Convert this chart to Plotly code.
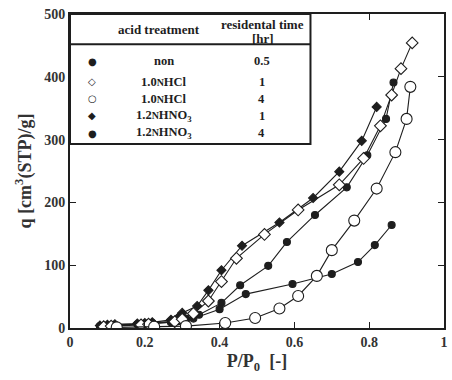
import plotly.graph_objects as go

# ---- data ----
non_x = [0.08, 0.10, 0.12, 0.18, 0.20, 0.22, 0.27, 0.29, 0.31, 0.33, 0.40, 0.47, 0.595, 0.70, 0.77, 0.815, 0.86]
non_y = [3, 4, 5, 6, 7, 8, 9, 11, 13, 15, 30, 54, 70, 86, 105, 132, 164]

hcl1_x = [0.09, 0.11, 0.19, 0.21, 0.28, 0.30, 0.33, 0.37, 0.405, 0.445, 0.52, 0.61, 0.72, 0.785, 0.83, 0.86, 0.885, 0.915]
hcl1_y = [2, 3, 5, 6, 10, 14, 23, 43, 74, 111, 149, 188, 228, 270, 322, 371, 413, 454]

hcl4_x = [0.125, 0.225, 0.31, 0.415, 0.495, 0.56, 0.61, 0.66, 0.70, 0.76, 0.82, 0.87, 0.90, 0.91]
hcl4_y = [1, 2, 3, 8, 16, 31, 51, 83, 124, 171, 222, 280, 333, 384]

hno1_x = [0.08, 0.10, 0.12, 0.18, 0.20, 0.22, 0.27, 0.29, 0.30, 0.34, 0.37, 0.405, 0.46, 0.56, 0.65, 0.72, 0.78, 0.82]
hno1_y = [4, 5, 6, 7, 8, 9, 13, 17, 24, 35, 60, 92, 131, 168, 207, 249, 298, 352]

hno4_x = [0.09, 0.11, 0.19, 0.21, 0.27, 0.29, 0.31, 0.345, 0.405, 0.455, 0.53, 0.58, 0.655, 0.74, 0.795, 0.845, 0.865]
hno4_y = [3, 4, 6, 7, 10, 12, 15, 21, 40, 68, 99, 137, 180, 224, 275, 333, 391]

x_ticks = [0, 0.2, 0.4, 0.6, 0.8, 1]
x_labels = ["0", "0.2", "0.4", "0.6", "0.8", "1"]
y_ticks = [0, 100, 200, 300, 400, 500]
y_labels = ["0", "100", "200", "300", "400", "500"]

legend_treat = ["non", "1.0<span style='font-size:10px'>N</span>HCl", "1.0<span style='font-size:10px'>N</span>HCl",
                "1.2<span style='font-size:10px'>N</span>HNO<sub>3</sub>", "1.2<span style='font-size:10px'>N</span>HNO<sub>3</sub>"]
legend_time = ["0.5", "1", "4", "1", "4"]
legend_sym = ["●", "◇", "○", "◆", "●"]
legend_rows_y = [425, 392, 365, 338, 310]

INK = "#1e1e1e"
SERIF = "Liberation Serif"

fig = go.Figure()

def add(x, y, symbol, size, fill):
    fig.add_trace(go.Scatter(
        x=x, y=y, mode="lines+markers",
        line=dict(color=INK, width=1.1),
        marker=dict(symbol=symbol, size=size, color=fill,
                    line=dict(color=INK, width=1.1)),
        showlegend=False))

add(non_x, non_y, "circle", 7, INK)
add(hno4_x, hno4_y, "circle", 7, INK)
add(hno1_x, hno1_y, "diamond", 7, INK)
add(hcl1_x, hcl1_y, "diamond", 9, "white")
add(hcl4_x, hcl4_y, "circle", 11, "white")

# legend table
fig.add_shape(type="rect", x0=0, x1=0.643, y0=293, y1=500, xref="x", yref="y",
              line=dict(color=INK, width=2), fillcolor="white", layer="above")
fig.add_shape(type="line", x0=0, x1=0.643, y0=452, y1=452, xref="x", yref="y",
              line=dict(color=INK, width=2), layer="above")

font_h = dict(family=SERIF, size=13, color=INK)
font_b = dict(family=SERIF, size=12.5, color=INK)
fig.add_annotation(x=0.238, y=476, text="<b>acid treatment</b>", showarrow=False, font=font_h)
fig.add_annotation(x=0.516, y=484, text="<b>residental time</b>", showarrow=False, font=font_h)
fig.add_annotation(x=0.516, y=461, text="<b>[hr]</b>", showarrow=False, font=font_h)
for sym, tr, tm, yy in zip(legend_sym, legend_treat, legend_time, legend_rows_y):
    fig.add_annotation(x=0.06, y=yy, text=sym, showarrow=False,
                       font=dict(family="DejaVu Sans", size=10, color=INK))
    fig.add_annotation(x=0.25, y=yy, text="<b>" + tr + "</b>", showarrow=False, font=font_b)
    fig.add_annotation(x=0.513, y=yy, text="<b>" + tm + "</b>", showarrow=False, font=font_b)

axis_common = dict(showgrid=False, zeroline=False, showline=True, linecolor=INK, linewidth=2,
                   mirror="ticks", ticks="inside", ticklen=6, tickcolor=INK, tickwidth=1.2,
                   tickfont=dict(family=SERIF, size=14, color="#333"))

fig.update_xaxes(range=[0, 1], tickvals=x_ticks, ticktext=["<b>" + t + "</b>" for t in x_labels],
                 title=dict(text="<b>P/P<sub>0</sub>  [-]</b>", font=dict(family=SERIF, size=18, color="#333"),
                            standoff=6),
                 **axis_common)
fig.update_yaxes(range=[0, 500], tickvals=y_ticks, ticktext=["<b>" + t + "</b>" for t in y_labels],
                 title=dict(text="<b>q [cm<sup>3</sup>(STP)/g]</b>", font=dict(family=SERIF, size=18, color="#333"),
                            standoff=8),
                 **axis_common)

fig.update_layout(width=452, height=380, margin=dict(l=70, r=4, t=14, b=52),
                  plot_bgcolor="white", paper_bgcolor="white")

fig.write_html("out.html")
